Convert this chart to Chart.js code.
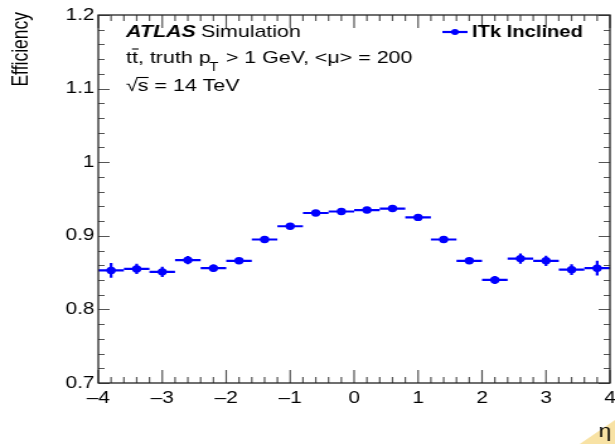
<!DOCTYPE html>
<html>
<head>
<meta charset="utf-8">
<script src="https://cdn.jsdelivr.net/npm/chart.js@4"></script>
<style>
  body { margin: 0; background: #fff; }
  /* the reference picture is stretched sideways; draw on a narrower canvas and stretch it */
  #chart { display: block; width: 615px !important; height: 444px !important; }
</style>
</head>
<body>
<canvas id="chart" width="488" height="444"></canvas>
<script>
// Bin centres in eta (bins of width 0.4 from -4 to 4)
const etaCenters = [-3.8, -3.4, -3.0, -2.6, -2.2, -1.8, -1.4, -1.0, -0.6, -0.2,
                    0.2, 0.6, 1.0, 1.4, 1.8, 2.2, 2.6, 3.0, 3.4, 3.8];
const etaHalfWidth = [0.2, 0.2, 0.2, 0.2, 0.2, 0.2, 0.2, 0.2, 0.2, 0.2,
                      0.2, 0.2, 0.2, 0.2, 0.2, 0.2, 0.2, 0.2, 0.2, 0.2];
// Efficiency
const efficiency = [0.853, 0.855, 0.851, 0.867, 0.856, 0.866, 0.895, 0.913, 0.931, 0.933,
                    0.935, 0.937, 0.925, 0.895, 0.866, 0.840, 0.869, 0.866, 0.854, 0.856];
const effError = [0.010, 0.007, 0.007, 0.0055, 0.005, 0.004, 0.003, 0.003, 0.003, 0.003,
                  0.003, 0.003, 0.003, 0.003, 0.004, 0.0055, 0.007, 0.007, 0.0072, 0.010];
const xTicks = [-4, -3, -2, -1, 0, 1, 2, 3, 4];
const yTicks = [0.7, 0.8, 0.9, 1.0, 1.1, 1.2];
const seriesLabel = 'ITk Inclined';

const blue = '#0000ff';
const font = '"Liberation Sans", Arial, Helvetica, sans-serif';

// Horizontal (bin width) and vertical error bars
const errorBars = {
  id: 'errorBars',
  afterDatasetsDraw(chart) {
    const ctx = chart.ctx, xs = chart.scales.x, ys = chart.scales.y;
    ctx.save();
    ctx.strokeStyle = blue;
    ctx.lineWidth = 2.2;
    for (let i = 0; i < efficiency.length; i++) {
      const y = ys.getPixelForValue(efficiency[i]);
      ctx.beginPath();
      ctx.moveTo(xs.getPixelForValue(etaCenters[i] - etaHalfWidth[i]), y);
      ctx.lineTo(xs.getPixelForValue(etaCenters[i] + etaHalfWidth[i]), y);
      const x = xs.getPixelForValue(etaCenters[i]);
      ctx.moveTo(x, ys.getPixelForValue(efficiency[i] - effError[i]));
      ctx.lineTo(x, ys.getPixelForValue(efficiency[i] + effError[i]));
      ctx.stroke();
    }
    ctx.restore();
  }
};

// ROOT-style frame with inward ticks on all sides, plus text
const frame = {
  id: 'frame',
  afterDraw(chart) {
    const ctx = chart.ctx, xs = chart.scales.x, ys = chart.scales.y;
    const a = chart.chartArea;
    ctx.save();
    ctx.strokeStyle = '#555';
    ctx.lineWidth = 1.2;
    ctx.beginPath();
    // x ticks (major every 1, minor every 0.2)
    for (let k = 0; k <= 40; k++) {
      const px = xs.getPixelForValue(xs.min + k * 0.2);
      const len = (k % 5 === 0) ? 13 : 6;
      ctx.moveTo(px, a.bottom); ctx.lineTo(px, a.bottom - len);
      ctx.moveTo(px, a.top); ctx.lineTo(px, a.top + len);
    }
    // y ticks (major every 0.1, minor every 0.02)
    for (let k = 0; k <= 25; k++) {
      const py = Math.round(ys.getPixelForValue(ys.min + k * 0.02)) + 0.5;
      const len = (k % 5 === 0) ? 9 : 5;
      ctx.moveTo(a.left, py); ctx.lineTo(a.left + len, py);
      ctx.moveTo(a.right, py); ctx.lineTo(a.right - len, py);
    }
    ctx.stroke();
    ctx.strokeStyle = '#222';
    ctx.lineWidth = 1.3;
    ctx.strokeRect(a.left, a.top, a.right - a.left, a.bottom - a.top);

    // page-curl corner in the bottom right
    ctx.fillStyle = '#f8e2a4';
    ctx.beginPath();
    ctx.moveTo(460, 444); ctx.lineTo(488, 420); ctx.lineTo(488, 444);
    ctx.closePath();
    ctx.fill();

    // axis titles
    ctx.fillStyle = '#000';
    ctx.font = '17.5px ' + font;
    ctx.save();
    ctx.translate(21.5, 12);
    ctx.rotate(-Math.PI / 2);
    ctx.textAlign = 'right';
    ctx.textBaseline = 'alphabetic';
    ctx.fillText('Efficiency', 0, 0);
    ctx.restore();
    ctx.font = '18px ' + font;
    ctx.textAlign = 'right';
    ctx.fillText('\u03b7', 485, 437);

    // ATLAS label
    const x0 = 100;
    ctx.textAlign = 'left';
    ctx.font = 'italic bold 17px ' + font;
    ctx.fillText('ATLAS', x0, 37);
    const w = ctx.measureText('ATLAS').width;
    ctx.font = '17px ' + font;
    ctx.fillText('Simulation', x0 + w + 4, 37);

    // process line with t-tbar and p_T subscript
    let x = x0;
    const base2 = 63;
    const tw = ctx.measureText('t').width;
    ctx.fillText('t', x, base2);
    ctx.fillText('t', x + tw, base2);
    ctx.lineWidth = 1.1;
    ctx.strokeStyle = '#000';
    ctx.beginPath();
    ctx.moveTo(x + tw, base2 - 14); ctx.lineTo(x + 2 * tw + 0.5, base2 - 14);
    ctx.stroke();
    x += 2 * tw;
    const s1 = ', truth p';
    ctx.fillText(s1, x, base2);
    x += ctx.measureText(s1).width;
    ctx.font = '12px ' + font;
    ctx.fillText('T', x - 1, base2 + 8);
    x += ctx.measureText('T').width;
    ctx.font = '17px ' + font;
    ctx.fillText(' > 1 GeV, <\u03bc> = 200', x, base2);

    // sqrt(s) line
    const base3 = 91;
    ctx.fillText('\u221a', x0, base3);
    const rw = ctx.measureText('\u221a').width;
    ctx.fillText('s = 14 TeV', x0 + rw, base3);
    const sw = ctx.measureText('s').width;
    ctx.beginPath();
    ctx.moveTo(x0 + rw - 1, base3 - 13.5); ctx.lineTo(x0 + rw + sw, base3 - 13.5);
    ctx.stroke();

    // legend
    ctx.strokeStyle = blue;
    ctx.lineWidth = 2.2;
    ctx.beginPath();
    ctx.moveTo(351, 32); ctx.lineTo(371, 32);
    ctx.stroke();
    ctx.fillStyle = blue;
    ctx.beginPath();
    ctx.arc(361, 32, 3, 0, Math.PI * 2);
    ctx.fill();
    ctx.fillStyle = '#000';
    ctx.font = 'bold 16px ' + font;
    ctx.fillText(seriesLabel, 374.5, 37);
    ctx.restore();
  }
};

const ctx = document.getElementById('chart').getContext('2d');
new Chart(ctx, {
  type: 'scatter',
  data: {
    datasets: [{
      label: seriesLabel,
      data: etaCenters.map((x, i) => ({ x: x, y: efficiency[i] })),
      backgroundColor: blue,
      borderColor: blue,
      pointRadius: 3.7,
      pointBorderWidth: 0
    }]
  },
  options: {
    responsive: false,
    devicePixelRatio: 1,
    animation: false,
    layout: { padding: { left: 0, top: 15, right: 4, bottom: 0 } },
    plugins: { legend: { display: false }, tooltip: { enabled: false } },
    scales: {
      x: {
        type: 'linear',
        min: xTicks[0],
        max: xTicks[xTicks.length - 1],
        afterBuildTicks: s => { s.ticks = xTicks.map(v => ({ value: v })); },
        afterFit: s => { s.height = 61; s.paddingLeft = 0; s.paddingRight = 0; },
        grid: { display: false, drawTicks: false },
        border: { display: false },
        ticks: {
          autoSkip: false,
          maxRotation: 0,
          padding: 6,
          color: '#000',
          font: { family: font, size: 16.5 },
          callback: v => v < 0 ? '\u2013' + Math.abs(v) : String(v)
        }
      },
      y: {
        type: 'linear',
        min: yTicks[0],
        max: yTicks[yTicks.length - 1],
        afterBuildTicks: s => { s.ticks = yTicks.map(v => ({ value: v })); },
        afterFit: s => { s.width = 78; s.paddingTop = 0; s.paddingBottom = 0; },
        grid: { display: false, drawTicks: false },
        border: { display: false },
        ticks: {
          autoSkip: false,
          padding: 3,
          color: '#000',
          font: { family: font, size: 16.5 },
          callback: v => String(Math.round(v * 10) / 10)
        }
      }
    }
  },
  plugins: [errorBars, frame]
});
</script>
</body>
</html>
